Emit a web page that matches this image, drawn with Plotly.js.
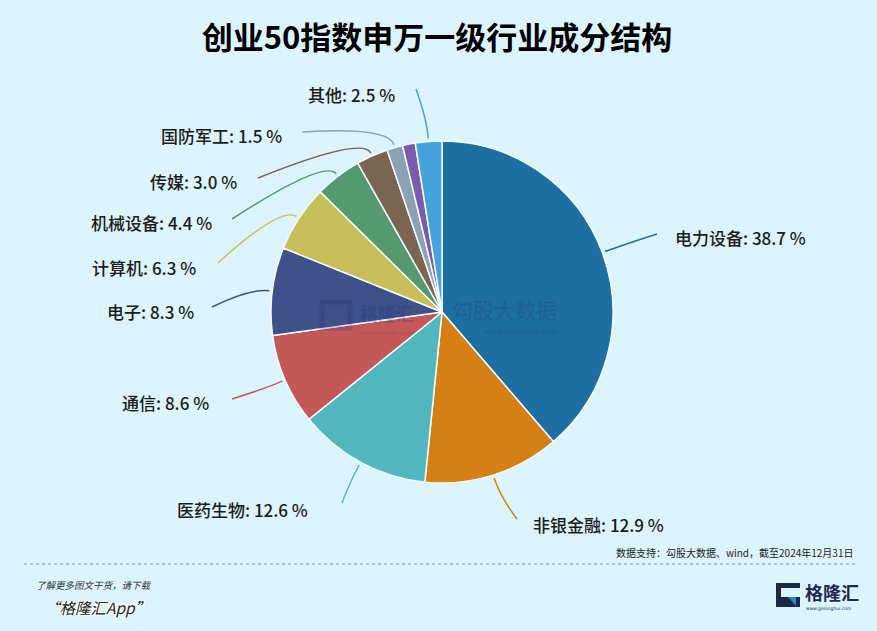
<!DOCTYPE html>
<html>
<head>
<meta charset="utf-8">
<script src="https://cdn.plot.ly/plotly-3.0.1.min.js"></script>
<style>
  html, body { margin: 0; padding: 0; background: #dcf4fe; }
  #chart { width: 877px; height: 631px; }
</style>
</head>
<body>
<div id="chart"></div>
<script>
// ---- data ----
const categories = ["电力设备", "非银金融", "医药生物", "通信", "电子", "计算机", "机械设备", "传媒", "国防军工", "其他行业", "其他"];
const shares = [38.7, 12.9, 12.6, 8.6, 8.3, 6.3, 4.4, 3.0, 1.5, 1.2, 2.5];
const showLabel = [true, true, true, true, true, true, true, true, true, false, true];
const colors = ["#1d6fa1", "#d48015", "#52b7bd", "#c45858", "#3e5189", "#c9bd58", "#539a70", "#7a6650", "#8aa2b3", "#7a5cac", "#45a2da"];

// ---- layout helpers (label placement, in pixels) ----
const W = 877, H = 631;
const cx = 442, cy = 312, R = 171;
// text anchor [x, y, xanchor] and leader-line end point [x, y]
const labelPlace = [
  [673, 238, "left", 657, 234],
  [531, 524, "left", 517, 519],
  [310, 509, "right", 342, 503],
  [211, 402, "right", 232, 399],
  [196, 311, "right", 212, 307],
  [198, 268, "right", 218, 263],
  [214, 222, "right", 232, 219],
  [239, 181, "right", 258, 178],
  [284, 135, "right", 302, 132],
  null,
  [397, 95, "right", 416, 89]
];
const px = x => x / W;
const py = y => 1 - y / H;

const total = shares.reduce((a, b) => a + b, 0);
const annotations = [];
const shapes = [];
let cum = 0;
shares.forEach((v, i) => {
  const mid = (cum + v / 2) / total * 2 * Math.PI;
  cum += v;
  if (!showLabel[i]) return;
  const p = labelPlace[i];
  const sx = Math.sin(mid), cyv = Math.cos(mid);
  const x0 = cx + (R + 3) * sx, y0 = cy - (R + 3) * cyv;
  const x1 = cx + (R + 22) * sx, y1 = cy - (R + 22) * cyv;
  shapes.push({
    type: "path", xref: "paper", yref: "paper",
    path: `M ${px(x0)} ${py(y0)} Q ${px(x1)} ${py(y1)} ${px(p[3])} ${py(p[4])}`,
    line: { color: colors[i], width: 1.5 }
  });
  annotations.push({
    xref: "paper", yref: "paper", x: px(p[0]), y: py(p[1]),
    xanchor: p[2], yanchor: "middle", showarrow: false,
    text: categories[i] + ": " + v.toFixed(1) + " %",
    font: { family: "Noto Sans CJK SC, sans-serif", size: 17, color: "#1b1b1b", weight: 500 }
  });
});

// dotted separator
shapes.push({ type: "line", xref: "paper", yref: "paper", x0: px(24), x1: px(855), y0: py(564), y1: py(564),
  line: { color: "#8a8f94", width: 1, dash: "dot" } });

// logo icon (bottom-right)
shapes.push({ type: "rect", xref: "paper", yref: "paper", x0: px(776), x1: px(800), y0: py(607), y1: py(583),
  fillcolor: "#1b2846", line: { width: 0 } });
shapes.push({ type: "rect", xref: "paper", yref: "paper", x0: px(781), x1: px(801), y0: py(597), y1: py(588),
  fillcolor: "#dcf4fe", line: { width: 0 } });
shapes.push({ type: "path", xref: "paper", yref: "paper",
  path: `M ${px(788)} ${py(597)} L ${px(796)} ${py(597)} L ${px(796)} ${py(606)} Z`,
  fillcolor: "#2f86d0", line: { width: 0 } });

// source and footer
annotations.push({ xref: "paper", yref: "paper", x: px(855), y: py(552), xanchor: "right", yanchor: "middle",
  showarrow: false, text: "数据支持：勾股大数据、wind，截至2024年12月31日",
  font: { family: "Noto Sans CJK SC, sans-serif", size: 10, color: "#222" } });
annotations.push({ xref: "paper", yref: "paper", x: px(34), y: py(585), xanchor: "left", yanchor: "middle",
  showarrow: false, text: "了解更多图文干货，请下载",
  font: { family: "Noto Sans CJK SC, sans-serif", size: 9.5, color: "#333", style: "italic" } });
annotations.push({ xref: "paper", yref: "paper", x: px(42), y: py(607), xanchor: "left", yanchor: "middle",
  showarrow: false, text: "“格隆汇App”",
  font: { family: "Noto Sans CJK SC, sans-serif", size: 15.5, color: "#222", style: "italic",
    shadow: "1px 1px 0 #fff, -1px -1px 0 #fff, 1px -1px 0 #fff, -1px 1px 0 #fff" } });
annotations.push({ xref: "paper", yref: "paper", x: px(803), y: py(592), xanchor: "left", yanchor: "middle",
  showarrow: false, text: "<b>格隆汇</b>",
  font: { family: "Noto Sans CJK SC, sans-serif", size: 18, color: "#1c2a4c" } });
annotations.push({ xref: "paper", yref: "paper", x: px(804), y: py(608), xanchor: "left", yanchor: "middle",
  showarrow: false, text: "www.gelonghui.com",
  font: { family: "DejaVu Sans, sans-serif", size: 4.5, color: "#1c2a4c" } });

// watermark
annotations.push({ xref: "paper", yref: "paper", x: px(358), y: py(313), xanchor: "left", yanchor: "middle",
  showarrow: false, text: "<b>格隆汇</b>", opacity: 0.22,
  font: { family: "Noto Sans CJK SC, sans-serif", size: 18, color: "#1a2f7a" } });
annotations.push({ xref: "paper", yref: "paper", x: px(359), y: py(333), xanchor: "left", yanchor: "middle",
  showarrow: false, text: "www.gelonghui.com", opacity: 0.22,
  font: { family: "DejaVu Sans, sans-serif", size: 5.5, color: "#1a2f7a" } });
annotations.push({ xref: "paper", yref: "paper", x: px(450), y: py(309), xanchor: "left", yanchor: "middle",
  showarrow: false, text: "勾股大数据", opacity: 0.22,
  font: { family: "Noto Sans CJK SC, sans-serif", size: 21, color: "#1a2f7a" } });
annotations.push({ xref: "paper", yref: "paper", x: px(482), y: py(331), xanchor: "left", yanchor: "middle",
  showarrow: false, text: "www.gogudata.com", opacity: 0.22,
  font: { family: "DejaVu Sans, sans-serif", size: 7.5, color: "#1a2f7a" } });
shapes.push({ type: "rect", xref: "paper", yref: "paper", x0: px(322), x1: px(350), y0: py(328), y1: py(302),
  line: { color: "rgba(26,47,122,0.22)", width: 5 }, fillcolor: "rgba(0,0,0,0)" });

const trace = {
  type: "pie",
  labels: categories,
  values: shares,
  sort: false,
  direction: "clockwise",
  rotation: 0,
  textinfo: "none",
  hoverinfo: "label+percent",
  marker: { colors: colors, line: { color: "#f4fbff", width: 1.5 } },
  domain: { x: [px(cx - R), px(cx + R)], y: [py(cy + R), py(cy - R)] },
  showlegend: false
};

const layout = {
  width: W, height: H,
  margin: { l: 0, r: 0, t: 0, b: 0 },
  paper_bgcolor: "#dcf4fe",
  plot_bgcolor: "#dcf4fe",
  title: {
    text: "<b>创业50指数申万一级行业成分结构</b>",
    x: px(437), xanchor: "center",
    y: py(38), yref: "container", yanchor: "middle",
    font: { family: "Noto Sans CJK SC, sans-serif", size: 31, color: "#000" }
  },
  showlegend: false,
  annotations: annotations,
  shapes: shapes
};

Plotly.newPlot("chart", [trace], layout, { displayModeBar: false, staticPlot: true });
</script>
</body>
</html>
